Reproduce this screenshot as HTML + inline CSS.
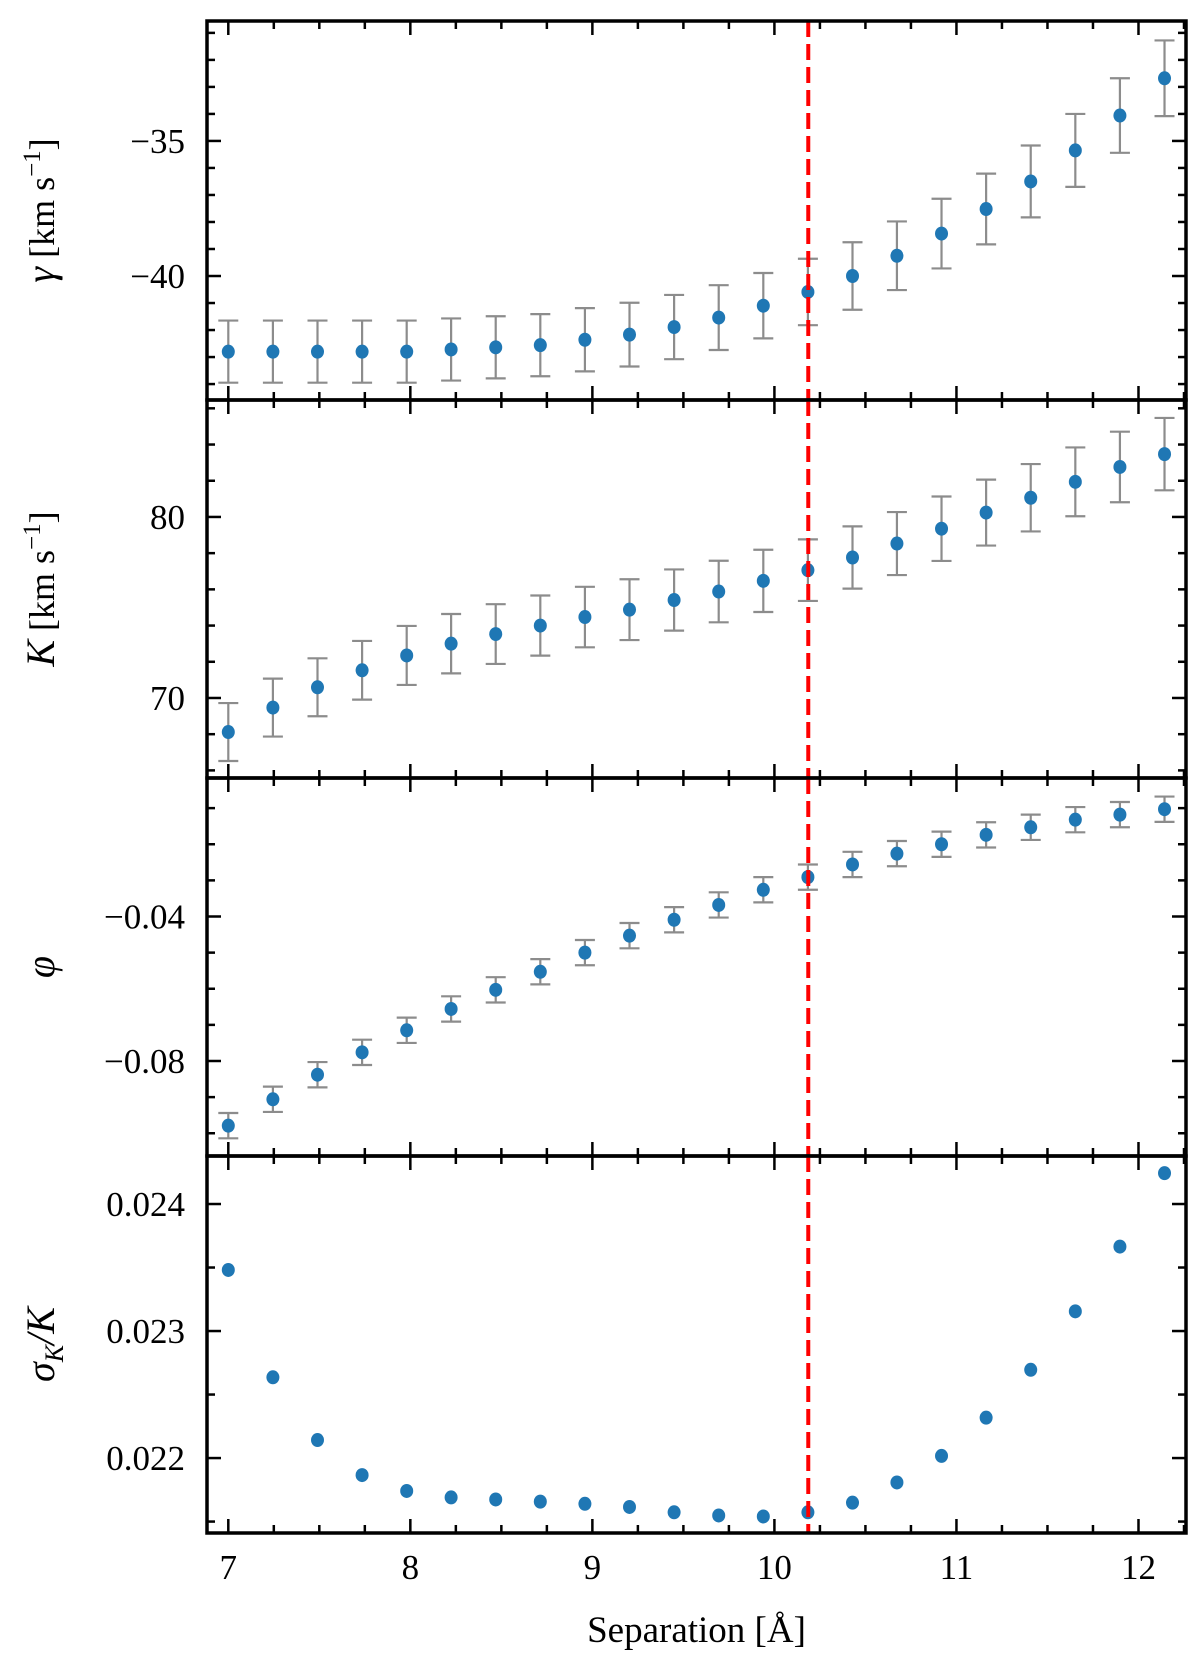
<!DOCTYPE html>
<html><head><meta charset="utf-8"><style>
html,body{margin:0;padding:0;background:#fff}
svg{display:block}
text{font-family:"Liberation Serif","DejaVu Serif",serif;fill:#000}
</style></head><body>
<svg id="fig" width="1200" height="1660" xmlns="http://www.w3.org/2000/svg"></svg>
<script>
const sepX = [7.000,7.245,7.490,7.735,7.980,8.224,8.469,8.714,8.959,9.204,9.449,9.694,9.939,10.184,10.429,10.673,10.918,11.163,11.408,11.653,11.898,12.143];
const gammaVals = [-42.80,-42.80,-42.80,-42.80,-42.80,-42.72,-42.64,-42.56,-42.36,-42.17,-41.89,-41.54,-41.10,-40.59,-40.00,-39.25,-38.43,-37.52,-36.50,-35.35,-34.06,-32.68];
const gammaErr = [1.15,1.15,1.15,1.15,1.15,1.15,1.15,1.15,1.17,1.18,1.19,1.2,1.21,1.23,1.25,1.27,1.29,1.31,1.33,1.35,1.38,1.4];
const kVals = [68.12,69.47,70.59,71.53,72.35,73.0,73.53,74.0,74.47,74.88,75.41,75.88,76.47,77.06,77.76,78.53,79.35,80.24,81.06,81.94,82.76,83.47];
const kErr = [1.6,1.6,1.6,1.62,1.63,1.64,1.65,1.66,1.67,1.68,1.69,1.7,1.72,1.7,1.72,1.74,1.78,1.82,1.86,1.9,1.95,2.0];
const phiVals = [-0.0979,-0.0906,-0.0838,-0.0776,-0.0715,-0.0656,-0.0603,-0.0553,-0.0500,-0.0453,-0.0409,-0.0368,-0.0326,-0.0291,-0.0256,-0.0226,-0.0200,-0.0174,-0.0153,-0.0132,-0.0118,-0.0103];
const phiErr = [0.0035,0.0035,0.0035,0.0035,0.0035,0.0035,0.0035,0.0035,0.0035,0.0035,0.0035,0.0035,0.0035,0.0035,0.0035,0.0035,0.0035,0.0035,0.0035,0.0035,0.0035,0.0035];
const sigVals = [0.023481,0.022636,0.022142,0.021866,0.021741,0.021690,0.021674,0.021657,0.021640,0.021615,0.021573,0.021548,0.021540,0.021573,0.021649,0.021808,0.022017,0.022318,0.022695,0.023155,0.023665,0.024243];
const xTicks = [7,8,9,10,11,12];
const xTickLabels = ["7","8","9","10","11","12"];
const vline = 10.186;

const NS="http://www.w3.org/2000/svg";
const svg=document.getElementById('fig');
function el(tag,attrs,parent){const e=document.createElementNS(NS,tag);for(const k in attrs)e.setAttribute(k,attrs[k]);(parent||svg).appendChild(e);return e;}
const L=207,R=1186,xmin=6.883,xmax=12.261;
const xs=v=>L+(v-xmin)/(xmax-xmin)*(R-L);

const panels=[
 {name:'gamma',top:21,bot:400,ymin:-44.59,ymax:-30.56,vals:gammaVals,err:gammaErr,major:[-40,-35],labels:["\u221240","\u221235"],minorStep:1},
 {name:'k',top:400,bot:778,ymin:65.58,ymax:86.46,vals:kVals,err:kErr,major:[70,80],labels:["70","80"],minorStep:2},
 {name:'phi',top:778,bot:1156,ymin:-0.1063,ymax:-0.00166,vals:phiVals,err:phiErr,major:[-0.08,-0.04],labels:["\u22120.08","\u22120.04"],minorStep:0.01},
 {name:'sigma-k',top:1156,bot:1533,ymin:0.02141,ymax:0.024378,vals:sigVals,err:null,major:[0.022,0.023,0.024],labels:["0.022","0.023","0.024"],minorStep:0.0005}
];

panels.forEach((p,pi)=>{
 const g=el('g',{});
 
 
 const ys=v=>p.bot-(v-p.ymin)/(p.ymax-p.ymin)*(p.bot-p.top);
 if(p.err){
  p.vals.forEach((v,i)=>{
   const x=xs(sepX[i]),y1=ys(v-p.err[i]),y2=ys(v+p.err[i]);
   const eb=el('g',{stroke:'#8c8c8c','stroke-width':2.2},g);
   
   
   el('line',{x1:x,x2:x,y1:y1,y2:y2},eb);
   el('line',{x1:x-10,x2:x+10,y1:y1,y2:y1},eb);
   el('line',{x1:x-10,x2:x+10,y1:y2,y2:y2},eb);
  });
 }
 p.vals.forEach((v,i)=>{
  const c=el('ellipse',{cx:xs(sepX[i]),cy:ys(v),rx:6.5,ry:7,fill:'#1f77b4'},g);
  
  
 });
 const vl=el('line',{x1:xs(vline),x2:xs(vline),y1:p.top,y2:p.bot,stroke:'#ff0000','stroke-width':4,'stroke-dasharray':'16,7'},g);
 
 
 const tk=el('g',{stroke:'#000','stroke-width':2.5},g);
 xTicks.forEach(t=>{const x=xs(t);el('line',{x1:x,x2:x,y1:p.bot,y2:p.bot-14},tk);el('line',{x1:x,x2:x,y1:p.top,y2:p.top+14},tk);});
 for(let t=6.9;t<=12.3;t+=0.25){const tt=Math.round(t*4)/4;if(tt<xmin||tt>xmax||Number.isInteger(tt))continue;const x=xs(tt);el('line',{x1:x,x2:x,y1:p.bot,y2:p.bot-8},tk);el('line',{x1:x,x2:x,y1:p.top,y2:p.top+8},tk);}
 const n0=Math.ceil(p.ymin/p.minorStep),n1=Math.floor(p.ymax/p.minorStep);
 for(let n=n0;n<=n1;n++){const v=n*p.minorStep;const isMaj=p.major.some(m=>Math.abs(m-v)<p.minorStep*0.1);const len=isMaj?14:8;const y=ys(v);el('line',{x1:L,x2:L+len,y1:y,y2:y},tk);el('line',{x1:R,x2:R-len,y1:y,y2:y},tk);}
 p.major.forEach((m,i)=>{const t=el('text',{x:L-22,y:ys(m)+12,'font-size':35,'text-anchor':'end'},g);t.textContent=p.labels[i];
  });
 el('rect',{x:L,y:p.top,width:R-L,height:p.bot-p.top,fill:'none',stroke:'#000','stroke-width':3.5},g);
 const yl=el('text',{x:0,y:0,'font-size':36,'text-anchor':'middle',transform:`translate(54,${(p.top+p.bot)/2}) rotate(-90)`},g);
 
 
 if(p.name==='sigma-k'){yl.innerHTML='<tspan font-style="italic" font-size="40">σ</tspan><tspan font-style="italic" font-size="26" dy="9">K</tspan><tspan dy="-9" font-style="italic" font-size="40">/K</tspan>';}
 else if(p.name==='phi'){yl.innerHTML='<tspan font-style="italic" font-size="40">φ</tspan>';}
 else {const s=p.name==='gamma'?'γ':'K';yl.innerHTML=`<tspan font-style="italic" font-size="40">${s}</tspan> [km s<tspan font-size="25" dy="-14">−1</tspan><tspan dy="14">]</tspan>`;}
 if(pi===3){xTicks.forEach((t,i)=>{const tx=el('text',{x:xs(t),y:p.bot+46,'font-size':35,'text-anchor':'middle'},g);tx.textContent=xTickLabels[i];
  });}
});
const xt=el('text',{x:(L+R)/2,y:1642,'font-size':37,'text-anchor':'middle'});
xt.textContent='Separation [Å]';


</script>
</body></html>
